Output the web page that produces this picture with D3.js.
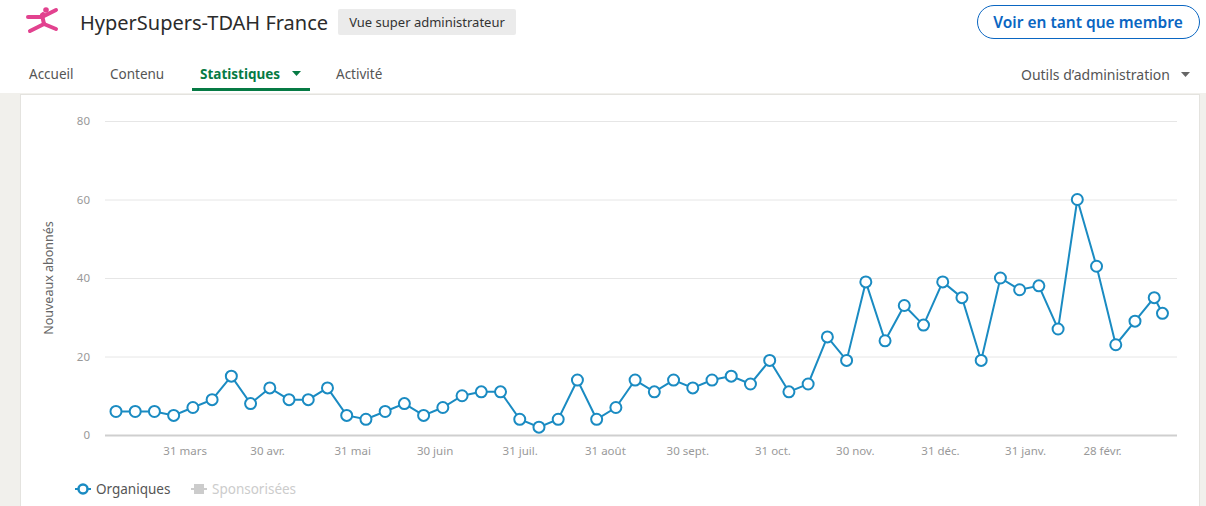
<!DOCTYPE html>
<html>
<head>
<meta charset="utf-8">
<script src="https://cdn.jsdelivr.net/npm/d3@7/dist/d3.min.js"></script>
<style>
  html, body { margin: 0; padding: 0; background: #fff; }
  body { width: 1206px; height: 506px; overflow: hidden; font-family: "Noto Sans", "Open Sans", sans-serif; }
</style>
</head>
<body>
<div id="vis"></div>
<script>
var width = 1206;
var height = 506;

// weekly new followers (organic)
var weekStarts = [
  "2022-03-06", "2022-03-13", "2022-03-20", "2022-03-27", "2022-04-03", "2022-04-10", "2022-04-17",
  "2022-04-24", "2022-05-01", "2022-05-08", "2022-05-15", "2022-05-22", "2022-05-29", "2022-06-05",
  "2022-06-12", "2022-06-19", "2022-06-26", "2022-07-03", "2022-07-10", "2022-07-17", "2022-07-24",
  "2022-07-31", "2022-08-07", "2022-08-14", "2022-08-21", "2022-08-28", "2022-09-04", "2022-09-11",
  "2022-09-18", "2022-09-25", "2022-10-02", "2022-10-09", "2022-10-16", "2022-10-23", "2022-10-30",
  "2022-11-06", "2022-11-13", "2022-11-20", "2022-11-27", "2022-12-04", "2022-12-11", "2022-12-18",
  "2022-12-25", "2023-01-01", "2023-01-08", "2023-01-15", "2023-01-22", "2023-01-29", "2023-02-05",
  "2023-02-12", "2023-02-19", "2023-02-26", "2023-03-05", "2023-03-12", "2023-03-19", "2023-03-22"
];
var organicValues = [
  6, 6, 6, 5, 7, 9, 15,
  8, 12, 9, 9, 12, 5, 4,
  6, 8, 5, 7, 10, 11, 11,
  4, 2, 4, 14, 4, 7, 14,
  11, 14, 12, 14, 15, 13, 19,
  11, 13, 25, 19, 39, 24, 33,
  28, 39, 35, 19, 40, 37, 38,
  27, 60, 43, 23, 29, 35, 31
];
var yTicks = [0, 20, 40, 60, 80];
var xTickDates = ["2022-03-31", "2022-04-30", "2022-05-31", "2022-06-30", "2022-07-31", "2022-08-31",
  "2022-09-30", "2022-10-31", "2022-11-30", "2022-12-31", "2023-01-31", "2023-02-28"];
var xTickLabels = ["31 mars", "30 avr.", "31 mai", "30 juin", "31 juil.", "31 août",
  "30 sept.", "31 oct.", "30 nov.", "31 déc.", "31 janv.", "28 févr."];
var navItems = ["Accueil", "Contenu", "Statistiques", "Activité"];
var seriesNames = ["Organiques", "Sponsorisées"];

var parseDate = d3.timeParse("%Y-%m-%d");
var points = weekStarts.map(function (d, i) {
    return { date: parseDate(d), value: organicValues[i] };
});

var blue = "#1a8bc2";
var pink = "#e2428f";

var svg = d3.select('#vis')
    .append('svg')
    .attr('width', width)
    .attr('height', height);

// page background + card
svg.append('rect').attr('width', width).attr('height', height).attr('fill', '#fff');
svg.append('rect')
    .attr('x', 0).attr('y', 93)
    .attr('width', width).attr('height', height - 93)
    .attr('fill', '#f1f0ec');
svg.append('rect')
    .attr('x', 20.5).attr('y', 94.5)
    .attr('width', 1179).attr('height', 420)
    .attr('fill', '#fff')
    .attr('stroke', '#e4e3df');

// header logo (jumping figure)
var logo = svg.append('g')
    .attr('stroke', pink)
    .attr('stroke-width', 4)
    .attr('stroke-linecap', 'round')
    .attr('stroke-linejoin', 'round')
    .attr('fill', 'none');
logo.append('path').attr('d', 'M28,17 L41,17 L43,14');
logo.append('path').attr('d', 'M44,16 L56,10');
logo.append('path').attr('d', 'M42,15 L44,24');
logo.append('path').attr('d', 'M44,24 L30,31');
logo.append('path').attr('d', 'M44,24 L56,29');
svg.append('circle').attr('cx', 46).attr('cy', 10).attr('r', 2.8).attr('fill', pink);

svg.append('text')
    .attr('x', 80).attr('y', 30)
    .attr('font-size', 20)
    .attr('fill', '#2b2b2b')
    .text('HyperSupers-TDAH France');

svg.append('rect')
    .attr('x', 338).attr('y', 9)
    .attr('width', 178).attr('height', 26)
    .attr('rx', 2)
    .attr('fill', '#ebebeb');
svg.append('text')
    .attr('x', 427).attr('y', 27)
    .attr('text-anchor', 'middle')
    .attr('font-size', 13)
    .attr('fill', '#333')
    .text('Vue super administrateur');

svg.append('rect')
    .attr('x', 977.5).attr('y', 5.5)
    .attr('width', 222).attr('height', 33)
    .attr('rx', 16.5)
    .attr('fill', '#fff')
    .attr('stroke', '#0a66c2');
svg.append('text')
    .attr('x', 1088).attr('y', 28)
    .attr('text-anchor', 'middle')
    .attr('font-size', 15.5)
    .attr('font-weight', 600)
    .attr('fill', '#0a66c2')
    .text('Voir en tant que membre');

// nav tabs
var navX = [29, 110, 200, 336];
svg.append('g').selectAll('text')
    .data(navItems)
    .enter().append('text')
    .attr('x', function (d, i) { return navX[i]; })
    .attr('y', 79)
    .attr('font-size', 13.5)
    .attr('font-weight', function (d) { return d === 'Statistiques' ? 'bold' : 'normal'; })
    .attr('fill', function (d) { return d === 'Statistiques' ? '#067a44' : '#555'; })
    .text(function (d) { return d; });
svg.append('path').attr('d', 'M292,71 L301,71 L296.5,76 Z').attr('fill', '#067a44');
svg.append('rect').attr('x', 192).attr('y', 88).attr('width', 118).attr('height', 3).attr('fill', '#067a44');

svg.append('text')
    .attr('x', 1170).attr('y', 80)
    .attr('text-anchor', 'end')
    .attr('font-size', 14)
    .attr('fill', '#555')
    .text('Outils d\u2019administration');
svg.append('path').attr('d', 'M1181,72 L1190,72 L1185.5,77 Z').attr('fill', '#666');

// chart
var x = d3.scaleTime()
    .domain([parseDate("2022-03-02"), new Date(2023, 2, 27, 7)])
    .range([105, 1177]);
var y = d3.scaleLinear()
    .domain([0, 80])
    .range([435, 121]);

// gridlines
svg.append('g').selectAll('line')
    .data(yTicks.filter(function (d) { return d > 0; }))
    .enter().append('line')
    .attr('x1', 105).attr('x2', 1177)
    .attr('y1', function (d) { return y(d) + 0.5; })
    .attr('y2', function (d) { return y(d) + 0.5; })
    .attr('stroke', '#e6e6e6');
svg.append('line')
    .attr('x1', 105).attr('x2', 1177)
    .attr('y1', y(0) + 0.5).attr('y2', y(0) + 0.5)
    .attr('stroke', '#cfcfcf').attr('stroke-width', 2);

// y axis labels
var yAxis = d3.axisLeft(y).tickValues(yTicks).tickSize(0).tickPadding(0);
var yAxisG = svg.append('g')
    .attr('transform', 'translate(90,0)')
    .call(yAxis);
yAxisG.select('.domain').remove();
yAxisG.selectAll('text')
    .attr('font-family', 'Noto Sans, sans-serif')
    .attr('font-size', 11.5)
    .attr('fill', '#999');

svg.append('text')
    .attr('transform', 'translate(53,278) rotate(-90)')
    .attr('text-anchor', 'middle')
    .attr('font-size', 12.5)
    .attr('fill', '#666')
    .text('Nouveaux abonnés');

// x axis labels
var xAxis = d3.axisBottom(x)
    .tickValues(xTickDates.map(parseDate))
    .tickFormat(function (d, i) { return xTickLabels[i]; })
    .tickSize(0).tickPadding(0);
var xAxisG = svg.append('g')
    .attr('transform', 'translate(0,447)')
    .call(xAxis);
xAxisG.select('.domain').remove();
xAxisG.selectAll('text')
    .attr('font-family', 'Noto Sans, sans-serif')
    .attr('font-size', 11.5)
    .attr('fill', '#999');

// series line + markers
var line = d3.line()
    .x(function (d) { return x(d.date); })
    .y(function (d) { return y(d.value); });
svg.append('path')
    .datum(points)
    .attr('d', line)
    .attr('fill', 'none')
    .attr('stroke', blue)
    .attr('stroke-width', 2);
svg.append('g').selectAll('circle')
    .data(points)
    .enter().append('circle')
    .attr('cx', function (d) { return x(d.date); })
    .attr('cy', function (d) { return y(d.value); })
    .attr('r', 5.5)
    .attr('fill', '#fff')
    .attr('stroke', blue)
    .attr('stroke-width', 2);

// legend
var legend = svg.append('g').attr('transform', 'translate(0,489)');
legend.append('line').attr('x1', 75).attr('x2', 91).attr('y1', 0).attr('y2', 0)
    .attr('stroke', blue).attr('stroke-width', 2);
legend.append('circle').attr('cx', 83).attr('cy', 0).attr('r', 4.5)
    .attr('fill', '#fff').attr('stroke', blue).attr('stroke-width', 2.5);
legend.append('text').attr('x', 96).attr('y', 5)
    .attr('font-size', 13.5).attr('fill', '#555').text(seriesNames[0]);
legend.append('line').attr('x1', 191).attr('x2', 207).attr('y1', 0).attr('y2', 0)
    .attr('stroke', '#ccc').attr('stroke-width', 2);
legend.append('rect').attr('x', 194).attr('y', -5).attr('width', 10).attr('height', 10)
    .attr('fill', '#ccc');
legend.append('text').attr('x', 212).attr('y', 5)
    .attr('font-size', 13.5).attr('fill', '#ccc').text(seriesNames[1]);
</script>
</body>
</html>
